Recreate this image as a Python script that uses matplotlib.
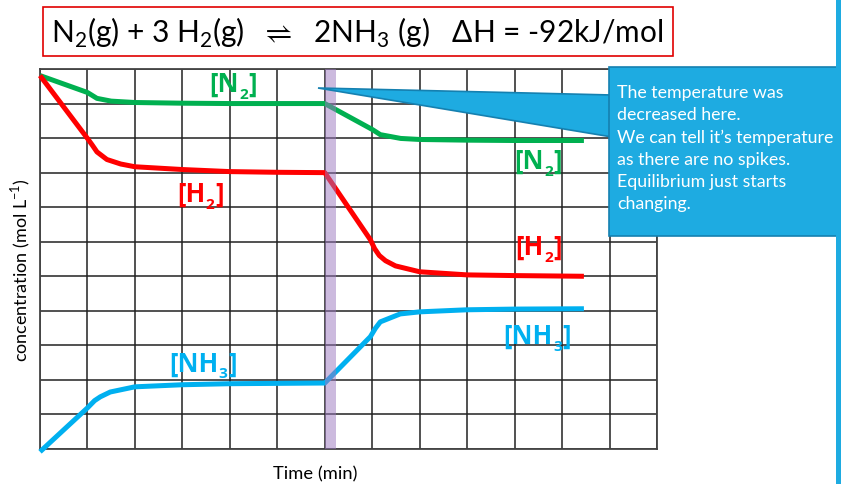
import matplotlib.pyplot as plt
from matplotlib.patches import Rectangle, Polygon

plt.rcParams['font.family'] = ['Lato', 'DejaVu Sans']
plt.rcParams['mathtext.fontset'] = 'custom'
plt.rcParams['mathtext.rm'] = 'Lato'
plt.rcParams['mathtext.fallback'] = 'stixsans'

# grid units: 13 columns (time), 11 rows (concentration)
n2_t = [0, 1, 1.2, 1.5, 2, 3, 4, 5, 6, 7, 7.17, 7.6, 8, 9, 10, 11.46]
n2_c = [10.81, 10.32, 10.15, 10.07, 10.03, 10.01, 10.0, 10.0, 10.0, 9.25, 9.1, 8.99, 8.96, 8.94, 8.93, 8.93]

h2_t = [0, 1, 1.1, 1.2, 1.41, 1.7, 2, 3, 4, 5, 6, 6.96, 7.05, 7.15, 7.28, 7.49, 8, 9, 10, 11.46]
h2_c = [10.81, 8.99, 8.8, 8.6, 8.38, 8.25, 8.17, 8.09, 8.03, 8.01, 8.0, 6.06, 5.8, 5.6, 5.45, 5.3, 5.13, 5.04, 5.02, 5.0]

nh3_t = [0, 1, 1.15, 1.27, 1.48, 2, 3, 4, 5, 6, 6.96, 7.07, 7.17, 7.59, 8, 9, 10, 11.46]
nh3_c = [-0.08, 1.19, 1.4, 1.51, 1.65, 1.8, 1.86, 1.89, 1.9, 1.91, 3.25, 3.5, 3.68, 3.91, 3.97, 4.03, 4.05, 4.06]

change_t = (6.0, 6.24)

# label pieces: main text, subscript, closing bracket
labels = [
    ('[N', '2', ']', 3.57, 10.55, '#00B050'),
    ('[N', '2', ']', 10.0, 8.32, '#00B050'),
    ('[H', '2', ']', 2.89, 7.36, '#FF0000'),
    ('[H', '2', ']', 10.02, 5.83, '#FF0000'),
    ('[NH', '3', ']', 2.72, 2.46, '#00B0F0'),
    ('[NH', '3', ']', 9.77, 3.25, '#00B0F0'),
]

note = ("The temperature was\ndecreased here.\nWe can tell it\u2019s temperature\n"
        "as there are no spikes.\nEquilibrium just starts\nchanging.")

W, H = 841, 484
fig = plt.figure(figsize=(W / 100, H / 100), dpi=100)
ax = fig.add_axes([40 / W, (H - 449) / H, (657 - 40) / W, (449 - 69) / H])

ax.set_xlim(0, 13)
ax.set_ylim(0, 11)
ax.set_xticks(range(14))
ax.set_yticks(range(12))
ax.tick_params(length=0, labelbottom=False, labelleft=False)
ax.grid(True, color='#222222', lw=1.1)
for s in ax.spines.values():
    s.set_color('#444444')
    s.set_linewidth(1.3)

lw = 3.6
ax.plot(n2_t, n2_c, color='#00B050', lw=lw, clip_on=False, zorder=3, solid_capstyle='butt')
ax.plot(h2_t, h2_c, color='#FF0000', lw=lw, clip_on=False, zorder=3, solid_capstyle='butt')
ax.plot(nh3_t, nh3_c, color='#00B0F0', lw=lw, clip_on=False, zorder=3, solid_capstyle='butt')
ax.axvspan(*change_t, color='#9B77BF', alpha=0.5, lw=0, zorder=4)

fs = 18.5
lab_font = dict(family=['Open Sans', 'DejaVu Sans'], fontweight='bold')
for main, sub, close, x, y, c in labels:
    t1 = ax.text(x, y, main, color=c, fontsize=fs, ha='left', va='center', zorder=5, **lab_font)
    t2 = ax.annotate(sub, xy=(1, 0.12), xycoords=t1, xytext=(0.3, 0), textcoords='offset points',
                     color=c, fontsize=fs * 0.6, ha='left', va='center', zorder=5, **lab_font)
    ax.annotate(close, xy=(1, 0.5), xycoords=(t2, t1), xytext=(0.3, 0), textcoords='offset points',
                color=c, fontsize=fs, ha='left', va='center', zorder=5, **lab_font)

# axis titles
fig.text(315 / W, 1 - 474 / H, 'Time (min)', fontsize=13.2, ha='center', va='center')
fig.text(21 / W, 1 - 270 / H, 'concentration (mol L$^{-1}$)', fontsize=13,
         rotation=90, ha='center', va='center')

# equation box
fig.patches.append(Rectangle((43 / W, 1 - 56 / H), (673 - 43) / W, (56 - 7) / H,
                             transform=fig.transFigure, fill=False, ec='#E00000', lw=1.2))
fig.text(357 / W, 1 - 33 / H,
         r'N$_2$(g) + 3 H$_2$(g)  $\rightleftharpoons$  2NH$_3$ (g)   $\Delta$H = -92kJ/mol',
         fontsize=21.5, ha='center', va='center')

# callout
blue = '#1EABE1'
edge = '#1580B0'
fig.patches.append(Polygon([(318 / W, 1 - 88 / H), (612 / W, 1 - 95 / H), (612 / W, 1 - 137 / H)],
                           closed=True, transform=fig.transFigure, fc=blue, ec=edge, lw=1.2, zorder=6))
fig.patches.append(Rectangle((609 / W, 1 - 236 / H), (845 - 609) / W, (236 - 67) / H,
                             transform=fig.transFigure, fc=blue, ec=edge, lw=1.2, zorder=7))
fig.text(617 / W, 1 - 85 / H, note, color='white', fontsize=12.8, ha='left', va='top',
         linespacing=1.47, zorder=8)

# blue bar at right edge
fig.patches.append(Rectangle((836 / W, 0), 5 / W, 1, transform=fig.transFigure,
                             fc=blue, ec='none', zorder=9))

fig.savefig('out.png', dpi=100)
